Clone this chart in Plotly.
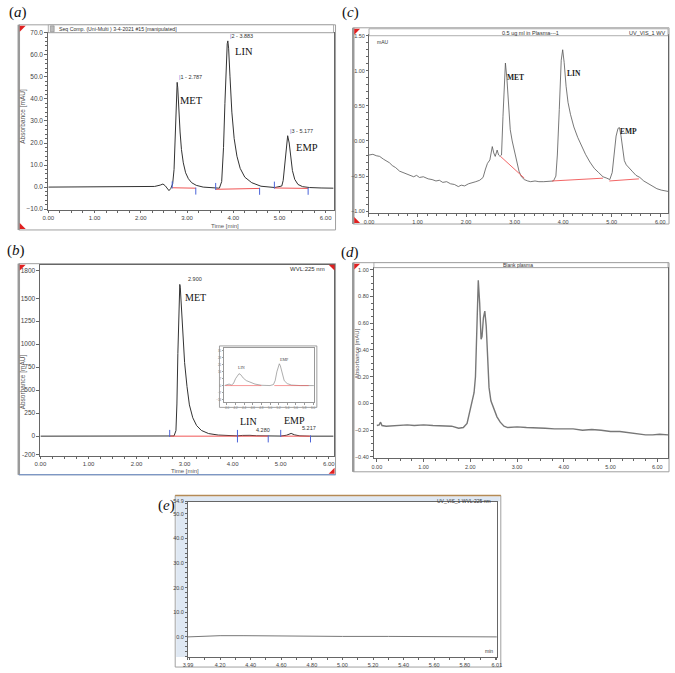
import plotly.graph_objects as go

W, H = 675, 673

# ---------------- values ----------------
# (a) standard mixture
a_time = [0.00, 0.50, 0.90, 1.10, 1.30, 1.60, 2.00, 2.30, 2.42, 2.48, 2.53, 2.57, 2.61, 2.65,
          2.69, 2.72, 2.74, 2.76, 2.787, 2.80, 2.82, 2.85, 2.88, 2.92, 2.97, 3.03, 3.10, 3.20,
          3.35, 3.55, 3.70, 3.75, 3.79, 3.82, 3.85, 3.87, 3.883, 3.90, 3.93, 3.97, 4.02, 4.08,
          4.15, 4.25, 4.40, 4.60, 4.90, 5.05, 5.08, 5.11, 5.14, 5.177, 5.21, 5.24, 5.28, 5.33,
          5.40, 5.50, 5.65, 5.90, 6.17]
a_abs = [0.0, 0.0, 0.1, 0.3, 0.3, 0.2, 0.1, 0.3, 0.9, 1.4, 0.6, -0.8, -1.6, -0.6,
         1.5, 8.0, 20.0, 36.0, 47.5, 45.0, 36.0, 25.0, 17.0, 11.0, 6.5, 3.8, 2.0, 0.8,
         0.0, -0.4, -0.5, 2.5, 18.0, 38.0, 57.0, 65.0, 66.3, 63.0, 50.0, 34.0, 22.0, 14.0,
         8.5, 4.5, 2.0, 0.4, -0.2, 0.5, 3.0, 9.0, 17.0, 23.3, 20.0, 14.0, 7.5, 3.5,
         1.2, 0.2, -0.2, -0.4, -0.5]
a_names = ["MET", "LIN", "EMP"]
a_rt = [2.787, 3.883, 5.177]
a_top = [47.5, 66.3, 23.3]
a_base_t0 = [2.68, 3.62, 4.89]
a_base_t1 = [3.19, 4.57, 5.62]
a_base_y0 = [-0.3, -1.0, -0.4]
a_base_y1 = [-0.5, -0.6, -0.6]

# (b) MET-rich sample
b_time = [0.00, 1.00, 2.00, 2.60, 2.78, 2.82, 2.84, 2.86, 2.88, 2.90, 2.91, 2.93, 2.96, 3.00,
          3.05, 3.10, 3.17, 3.25, 3.35, 3.50, 3.70, 3.90, 4.10, 4.20, 4.28, 4.36, 4.50, 4.70,
          5.00, 5.12, 5.217, 5.29, 5.40, 5.60, 6.10]
b_abs = [0, 0, 0, 0, 2, 60, 350, 900, 1400, 1650, 1620, 1400, 1080, 800,
         540, 340, 200, 115, 62, 28, 12, 5, 3, 8, 12, 9, 4, 1,
         1, 10, 30, 14, 3, 0, 0]
b_names = ["MET", "LIN", "EMP"]
b_rt = [2.900, 4.280, 5.217]
b_top = [1650, 12, 30]
b_base_t0 = [2.69, 4.10, 5.00]
b_base_t1 = [4.10, 4.74, 5.62]

# (b) inset: LIN / EMP zoom
ins_time = [3.94, 4.00, 4.05, 4.10, 4.15, 4.20, 4.25, 4.28, 4.32, 4.38, 4.45, 4.55, 4.65, 4.80,
            5.00, 5.08, 5.12, 5.16, 5.20, 5.217, 5.24, 5.28, 5.33, 5.40, 5.50, 5.70, 6.02]
ins_abs = [0, 0.5, 1.5, 0.5, 2, 7, 11, 12, 11, 7.5, 5, 3, 1.5, 0.3,
           0, 1, 5, 14, 21, 22, 20, 12, 5, 2, 0.5, 0, 0]
ins_base_t0 = [3.96, 5.10]
ins_base_t1 = [4.80, 5.90]

# (c) 0.5 ug/ml in plasma
c_time = [0.00, 0.08, 0.15, 0.22, 0.30, 0.36, 0.42, 0.48, 0.55, 0.63,
          0.70, 0.78, 0.85, 0.92, 0.98, 1.04, 1.12, 1.22, 1.30, 1.38,
          1.45, 1.52, 1.60, 1.68, 1.76, 1.84, 1.90, 1.97, 2.05, 2.12,
          2.20, 2.28, 2.35, 2.40, 2.44, 2.49, 2.52, 2.54, 2.57, 2.60,
          2.64, 2.67, 2.70, 2.73, 2.76, 2.79, 2.81, 2.84, 2.87, 2.91,
          2.95, 2.99, 3.04, 3.09, 3.14, 3.20, 3.27, 3.33, 3.42, 3.50,
          3.60, 3.70, 3.80, 3.85, 3.88, 3.92, 3.96, 3.99, 4.02, 4.06,
          4.10, 4.15, 4.22, 4.30, 4.38, 4.46, 4.55, 4.64, 4.73, 4.82,
          4.90, 4.96, 5.01, 5.05, 5.09, 5.13, 5.16, 5.19, 5.22, 5.26,
          5.30, 5.36, 5.42, 5.50, 5.58, 5.66, 5.75, 5.84, 5.93, 6.02,
          6.10, 6.17]
c_abs = [-0.20, -0.19, -0.21, -0.22, -0.26, -0.28, -0.31, -0.35, -0.38, -0.43,
         -0.45, -0.48, -0.50, -0.51, -0.49, -0.52, -0.51, -0.54, -0.55, -0.57,
         -0.56, -0.59, -0.58, -0.61, -0.62, -0.65, -0.63, -0.64, -0.61, -0.60,
         -0.58, -0.56, -0.52, -0.40, -0.32, -0.27, -0.15, -0.08, -0.17, -0.22,
         -0.13, -0.20, -0.22, -0.20, 0.35, 0.95, 1.11, 0.90, 0.55, 0.16,
         0.00, -0.12, -0.28, -0.43, -0.51, -0.55, -0.57, -0.58, -0.57, -0.58,
         -0.58, -0.57, -0.57, -0.50, -0.20, 0.45, 1.15, 1.30, 1.12, 0.78,
         0.55, 0.38, 0.20, 0.05, -0.08, -0.19, -0.30, -0.39, -0.45, -0.51,
         -0.53, -0.55, -0.45, -0.20, 0.07, 0.18, 0.19, 0.08, -0.08, -0.28,
         -0.34, -0.39, -0.43, -0.49, -0.52, -0.57, -0.61, -0.65, -0.68, -0.70,
         -0.71, -0.72]
c_names = ["MET", "LIN", "EMP"]
c_base_t0 = [2.71, 3.77, 4.95]
c_base_t1 = [3.20, 4.82, 5.56]
c_base_y0 = [-0.22, -0.57, -0.57]
c_base_y1 = [-0.53, -0.53, -0.54]

# (d) blank plasma
d_time = [0.00, 0.05, 0.08, 0.11, 0.20, 0.35, 0.50, 0.65, 0.80, 1.00,
          1.20, 1.40, 1.60, 1.75, 1.85, 1.93, 1.98, 2.03, 2.08, 2.11,
          2.14, 2.17, 2.20, 2.23, 2.25, 2.28, 2.31, 2.34, 2.37, 2.40,
          2.44, 2.50, 2.57, 2.64, 2.72, 2.80, 3.00, 3.20, 3.40, 3.60,
          3.80, 4.00, 4.20, 4.40, 4.60, 4.80, 5.00, 5.20, 5.40, 5.60,
          5.75, 5.90, 6.05, 6.23]
d_abs = [-0.165, -0.16, -0.14, -0.165, -0.17, -0.165, -0.16, -0.16, -0.165, -0.16,
         -0.165, -0.17, -0.17, -0.185, -0.18, -0.15, -0.08, 0.00, 0.08, 0.20,
         0.65, 0.92, 0.75, 0.48, 0.50, 0.64, 0.69, 0.58, 0.35, 0.12,
         0.02, -0.04, -0.10, -0.14, -0.17, -0.18, -0.175, -0.18, -0.18, -0.185,
         -0.19, -0.19, -0.19, -0.20, -0.195, -0.20, -0.21, -0.21, -0.22, -0.225,
         -0.235, -0.235, -0.23, -0.235]

# (e) blank run
e_time = [3.99, 4.10, 4.20, 4.35, 4.50, 4.70, 5.00, 5.30, 5.60, 6.01]
e_abs = [0.0, 0.3, 0.5, 0.5, 0.4, 0.3, 0.2, 0.2, 0.1, 0.0]
e_xticks = [3.99, 4.20, 4.40, 4.60, 4.80, 5.00, 5.20, 5.40, 5.60, 5.80, 6.01]
e_yticks = [0, 10, 20, 30, 40, 50, 54.9]
e_ylabels = ["0.0", "10.0", "20.0", "30.0", "40.0", "50.0", "54.9"]
b_yticks = [-200, 0, 250, 500, 750, 1000, 1250, 1500, 1800]

# ---------------- helpers (pixel -> paper) ----------------
def px(x):
    return x / W


def py(y):
    return 1 - y / H


def xdom(x0, x1):
    return [px(x0), px(x1)]


def ydom(y0, y1):
    return [py(y1), py(y0)]


TICKFONT = dict(family="Liberation Sans", size=6.5, color="#444")
AXCOL = "#666"
RED = "#f05555"
BLUE = "#4a63d8"


def axis(dom, rng, anchor, **kw):
    d = dict(domain=dom, range=rng, anchor=anchor, showline=True, linecolor=AXCOL,
             linewidth=1, mirror=True, ticks="outside", ticklen=3, tickcolor=AXCOL,
             tickfont=TICKFONT, showgrid=False, zeroline=False, fixedrange=True)
    d.update(kw)
    return d


def minor(dt, t0=0):
    return dict(ticks="outside", ticklen=2, tickcolor=AXCOL, dtick=dt, tick0=t0, showgrid=False)


def segs(t0, t1, y0, y1):
    xs, ys = [], []
    for a, b, c, d in zip(t0, t1, y0, y1):
        xs += [a, b, None]
        ys += [c, d, None]
    return xs, ys


fig = go.Figure()


def curve(x, y, xa, ya, color="#333", width=1):
    fig.add_trace(go.Scatter(x=x, y=y, mode="lines", xaxis=xa, yaxis=ya,
                             line=dict(color=color, width=width), hoverinfo="skip"))


def ticks(x, y, xa, ya):
    fig.add_trace(go.Scatter(x=x, y=y, mode="markers", xaxis=xa, yaxis=ya, hoverinfo="skip",
                             marker=dict(symbol="line-ns", size=5, color=BLUE,
                                         line=dict(color=BLUE, width=1))))


# (a)
curve(a_time, a_abs, "x", "y")
bx, by = segs(a_base_t0, a_base_t1, a_base_y0, a_base_y1)
curve(bx, by, "x", "y", RED, 1)
ticks(a_base_t0, [v + 1.3 for v in a_base_y0], "x", "y")
ticks(a_base_t1, [v - 1.3 for v in a_base_y1], "x", "y")

# (b)
curve(b_time, b_abs, "x2", "y2")
zeros = [0] * len(b_base_t0)
bx, by = segs(b_base_t0, b_base_t1, zeros, zeros)
curve(bx, by, "x2", "y2", RED, 1)
ticks(b_base_t0, [30] * len(b_base_t0), "x2", "y2")
ticks(b_base_t1, [-30] * len(b_base_t1), "x2", "y2")

# inset
curve(ins_time, ins_abs, "x6", "y6", "#777", 0.6)
z2 = [0] * len(ins_base_t0)
bx, by = segs(ins_base_t0, ins_base_t1, z2, z2)
curve(bx, by, "x6", "y6", RED, 0.6)

# (c)
curve(c_time, c_abs, "x3", "y3", "#555", 0.8)
bx, by = segs(c_base_t0, c_base_t1, c_base_y0, c_base_y1)
curve(bx, by, "x3", "y3", RED, 0.9)

# (d)
curve(d_time, d_abs, "x4", "y4", "#777", 1.4)

# (e)
curve(e_time, e_abs, "x5", "y5", "#777", 1)

SMALL = dict(family="Liberation Sans", size=5.5, color="#444")
layout = dict(
    width=W, height=H, margin=dict(l=0, r=0, t=0, b=0),
    paper_bgcolor="white", plot_bgcolor="white", showlegend=False,
    font=dict(family="Liberation Sans", color="#333"),
    xaxis=axis(xdom(43, 333), [0, 6.17], "y", dtick=1, tickformat=".2f", minor=minor(0.25),
               ticklen=2, tickfont=dict(family="Liberation Sans", size=6, color="#444")),
    yaxis=axis(ydom(29, 208), [-10.45, 70], "x", dtick=10, tickformat=".1f", minor=minor(2)),
    xaxis2=axis(xdom(35, 333), [0, 6.10], "y2", dtick=1, tickformat=".2f", minor=minor(0.25),
                ticklen=2, tickfont=dict(family="Liberation Sans", size=6, color="#444")),
    yaxis2=axis(ydom(263, 456), [-215, 1865], "x2", tickmode="array", tickvals=b_yticks,
                ticktext=[str(v) for v in b_yticks]),
    xaxis3=axis(xdom(369, 673), [0, 6.16], "y3", dtick=1, tickformat=".2f", minor=minor(0.2),
                tickfont=SMALL),
    yaxis3=axis(ydom(31, 211), [-1.028, 1.514], "x3", dtick=0.5, tickformat=".2f", minor=minor(0.1),
                tickfont=SMALL, ticklen=2),
    xaxis4=axis(xdom(374, 673), [-0.063, 6.23], "y4", dtick=1, tickformat=".2f", minor=minor(0.25),
                tickfont=SMALL),
    yaxis4=axis(ydom(266, 458), [-0.407, 1.015], "x4", dtick=0.2, tickformat=".2f", minor=minor(0.05),
                tickfont=SMALL),
    xaxis5=axis(xdom(185, 499), [3.99, 6.01], "y5", tickmode="array", tickvals=e_xticks,
                ticktext=["%.2f" % v for v in e_xticks], tickfont=SMALL, ticklen=2,
                minor=dict(ticks="outside", ticklen=1.5, tickcolor=AXCOL, tickmode="linear",
                           tick0=4.0, dtick=0.1)),
    yaxis5=axis(ydom(502, 659), [-8.2, 54.9], "x5", tickmode="array", tickvals=e_yticks,
                ticktext=e_ylabels, minor=minor(2), tickfont=SMALL, ticklen=2),
    xaxis6=axis(xdom(222, 313), [3.94, 6.02], "y6", dtick=0.2, ticklen=1.5, linecolor="#999",
                tickcolor="#999", tickfont=dict(size=3, color="#777"), tickformat=".1f"),
    yaxis6=axis(ydom(347, 402), [-17, 38], "x6", dtick=7, ticklen=1.5, linecolor="#999",
                tickcolor="#999", tickfont=dict(size=3, color="#777")),
)

# ---------------- frames & decorations ----------------
shapes = []
frames = [(13, 21, 335, 228), (13, 262, 335, 475), (353, 24, 674, 222),
          (353, 261, 674, 472)]
# light blue strips of (e)
shapes.append(dict(type="rect", xref="paper", yref="paper", x0=px(173), x1=px(185),
                   y0=py(659), y1=py(497), fillcolor="#dfe8f3", line=dict(width=0), layer="below"))
shapes.append(dict(type="rect", xref="paper", yref="paper", x0=px(173), x1=px(502),
                   y0=py(502), y1=py(497), fillcolor="#dfe8f3", line=dict(width=0), layer="below"))
for x0, y0, x1, y1 in frames:
    shapes.append(dict(type="rect", xref="paper", yref="paper", x0=px(x0), x1=px(x1),
                       y0=py(y1), y1=py(y0), line=dict(color="#a0a0a0", width=1), layer="below"))
    shapes.append(dict(type="line", xref="paper", yref="paper", x0=px(x0), x1=px(x0),
                       y0=py(y1), y1=py(y0), line=dict(color="#9a9a9a", width=2.5), layer="below"))
shapes.append(dict(type="rect", xref="paper", yref="paper", x0=px(172), x1=px(503),
                   y0=py(669), y1=py(496), line=dict(color="#a0a0a0", width=1), layer="below"))
shapes.append(dict(type="line", xref="paper", yref="paper", x0=px(172), x1=px(503),
                   y0=py(496), y1=py(496), line=dict(color="#b48a55", width=1.5)))
shapes.append(dict(type="line", xref="paper", yref="paper", x0=px(13), x1=px(335),
                   y0=py(475), y1=py(475), line=dict(color="#6a8cc8", width=1.2)))
# header bars
for x0, y0, x1, y1 in [(43, 21, 333, 29), (369, 25, 673, 32), (374, 261, 673, 266)]:
    shapes.append(dict(type="rect", xref="paper", yref="paper", x0=px(x0), x1=px(x1),
                       y0=py(y1), y1=py(y0), fillcolor="white", line=dict(color="#999", width=0.8)))
shapes.append(dict(type="rect", xref="paper", yref="paper", x0=px(45), x1=px(49),
                   y0=py(28), y1=py(22), fillcolor="#bbb", line=dict(color="#777", width=0.5)))
# inset box
shapes.append(dict(type="rect", xref="paper", yref="paper", x0=px(217), x1=px(316),
                   y0=py(407), y1=py(345), fillcolor="rgba(0,0,0,0)", line=dict(color="#888", width=0.8)))


def tri(x, y, sx, sy, s=6):
    pts = [(x, y), (x + sx * s, y), (x, y + sy * s)]
    path = "M " + " L ".join("%f,%f" % (px(a), py(b)) for a, b in pts) + " Z"
    return dict(type="path", xref="paper", yref="paper", path=path,
                fillcolor="#e02020", line=dict(width=0))


for x, y, sx, sy in [(14, 22, 1, 1), (14, 227, 1, -1), (14, 263, 1, 1), (334, 263, -1, 1),
                     (334, 474, -1, -1), (354, 25, 1, 1), (354, 221, 1, -1), (354, 262, 1, 1)]:
    shapes.append(tri(x, y, sx, sy))
layout["shapes"] = shapes

# ---------------- text ----------------
ann = []


def txt(x, y, text, size=6, xanchor="center", yanchor="middle", color="#333",
        family="Liberation Sans", angle=0, xref="paper", yref="paper", **kw):
    if xref == "paper":
        x = px(x)
    if yref == "paper":
        y = py(y)
    ann.append(dict(x=x, y=y, xref=xref, yref=yref, text=text, showarrow=False,
                    xanchor=xanchor, yanchor=yanchor, textangle=angle,
                    font=dict(size=size, color=color, family=family), **kw))


SERIF = "Liberation Serif"
for lab, x, y in [("a", 12, 9), ("b", 10, 249), ("c", 350, 9), ("d", 350, 251), ("e", 163, 506)]:
    txt(x, y, "(<i>%s</i>)" % lab, size=15, family=SERIF, color="#111")

# headers
txt(52, 25, "Seq Comp. (Uni-Multi ) 3-4-2021 #15 [manipulated]", size=5.2, xanchor="left")
txt(533, 29, "0.5 ug ml in Plasma---1", size=5.5)
txt(672, 29, "UV_VIS_1 WV", size=5.5, xanchor="right")
txt(375, 38, "mAU", size=5, xanchor="left")
txt(520, 263.5, "Blank plasma", size=5)
txt(326, 267, "WVL:225 nm", size=6, xanchor="right")
txt(495, 501, "UV_VIS_1 WVL:225 nm", size=5, xanchor="right")
txt(497, 653, "min", size=5, xanchor="right")

# axis titles
txt(17, 113, "Absorbance [mAU]", size=6.5, angle=-90, color="#555")
txt(17, 381, "Absorbance [mAU]", size=6.5, angle=-90, color="#555")
txt(357, 353, "Absorbance [mAU]", size=6, angle=-90, color="#555")
txt(223, 224, "Time [min]", size=6, color="#555")
txt(182, 471, "Time [min]", size=6, color="#555")

# (a) peak names and tags
for name, x, y in zip(a_names, [3.09, 4.23, 5.60], [39.4, 61.5, 17.9]):
    txt(x, y, name, size=10.5, family=SERIF, color="#111", xref="x", yref="y")
for i, (rt, top) in enumerate(zip(a_rt, a_top)):
    txt(rt, top, "<span style='color:%s'>|</span>%d - %.3f" % (BLUE, i + 1, rt), size=5.5,
        xanchor="left", yanchor="bottom", xref="x", yref="y")

# (b)
for name, x, y in zip(b_names, [3.22, 4.34, 5.28], [1509, 162, 172]):
    txt(x, y, name, size=10, family=SERIF, color="#111", xref="x2", yref="y2")
for rt, top, sh in zip(b_rt, b_top, [6, 8, 9]):
    txt(rt, top, "%.3f" % rt, size=5.5, xanchor="left", yanchor="bottom",
        xref="x2", yref="y2", xshift=sh)
for name, x, y in zip(["LIN", "EMP"], [4.33, 5.33], [18, 26]):
    txt(x, y, name, size=4, family=SERIF, color="#444", xref="x6", yref="y6")

# (c)
for name, x, y in zip(c_names, [3.02, 4.22, 5.35], [0.91, 0.96, 0.14]):
    txt(x, y, "<b>%s</b>" % name, size=7.5, family=SERIF, color="#222", xref="x3", yref="y3")

layout["annotations"] = ann
fig.update_layout(**layout)
# the page body has a default margin; drop it so the figure sits at the window origin
fig.write_html("out.html", config={"displayModeBar": False},
               post_script="document.body.style.margin='0px';")
